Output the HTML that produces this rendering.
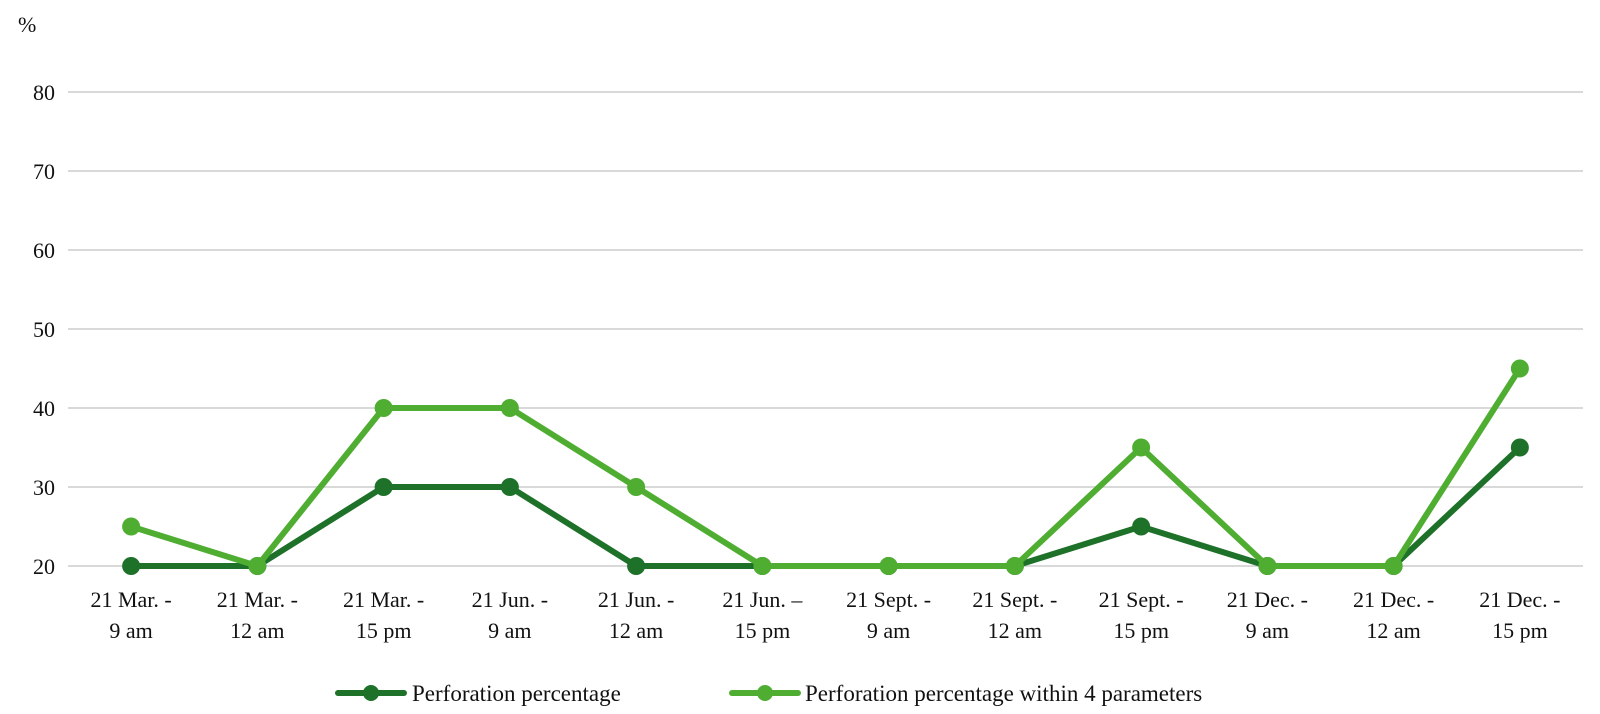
<!DOCTYPE html>
<html><head><meta charset="utf-8"><style>
html,body{margin:0;padding:0;background:#fff;width:1600px;height:714px;overflow:hidden}
text{font-family:"Liberation Serif",serif;fill:#111}
</style></head><body>
<svg id="chart" width="1600" height="714" xmlns="http://www.w3.org/2000/svg">
<text x="18" y="32" font-size="22">%</text>
<g id="grid"></g><g id="xl"></g><g id="series"></g>
<g>
<g>
<line x1="338" y1="693" x2="404" y2="693" stroke="#1e7129" stroke-width="6" stroke-linecap="round"/>
<circle cx="371" cy="693" r="8" fill="#1e7129"/>
<text x="412" y="701" font-size="23">Perforation percentage</text></g>
<g>
<line x1="732" y1="693" x2="798" y2="693" stroke="#4fae32" stroke-width="6" stroke-linecap="round"/>
<circle cx="765" cy="693" r="8" fill="#4fae32"/>
<text x="805" y="701" font-size="23">Perforation percentage within 4 parameters</text></g>
</g>
</svg>
<script>
const categories=[["21 Mar. -","9 am"],["21 Mar. -","12 am"],["21 Mar. -","15 pm"],["21 Jun. -","9 am"],["21 Jun. -","12 am"],["21 Jun. –","15 pm"],["21 Sept. -","9 am"],["21 Sept. -","12 am"],["21 Sept. -","15 pm"],["21 Dec. -","9 am"],["21 Dec. -","12 am"],["21 Dec. -","15 pm"]];
const perforation=[20,20,30,30,20,20,20,20,25,20,20,35];
const within4=[25,20,40,40,30,20,20,20,35,20,20,45];
const yTicks=[20,30,40,50,60,70,80];
const NS="http://www.w3.org/2000/svg";
const L=68,R=1583,Y0=566,PX=7.9;
const xs=i=>L+(R-L)/categories.length*(i+0.5);
const ys=v=>Y0-(v-20)*PX;
function mk(tag,attrs,parent){const e=document.createElementNS(NS,tag);for(const k in attrs)e.setAttribute(k,attrs[k]);parent.appendChild(e);return e;}
const grid=document.getElementById('grid');
yTicks.forEach(t=>{
 const ln=mk('line',{x1:L,x2:R,y1:ys(t),y2:ys(t),stroke:'#d9d9d9','stroke-width':2},grid);
 
 
 const tx=mk('text',{x:55,y:ys(t)+8,'text-anchor':'end','font-size':22},grid);
 tx.textContent=t;
 
 
});
const xl=document.getElementById('xl');
categories.forEach((c,i)=>{
 const tx=mk('text',{x:xs(i),y:607,'text-anchor':'middle','font-size':22},xl);
 
 
 c.forEach((s,j)=>{const ts=mk('tspan',{x:xs(i),dy:j?31:0},tx);ts.textContent=s;});
});
const sg=document.getElementById('series');
function draw(vals,color,name){
 const g=mk('g',{},sg);
 
 
 const pl=mk('polyline',{points:vals.map((v,i)=>xs(i)+','+ys(v)).join(' '),fill:'none',stroke:color,'stroke-width':6,'stroke-linejoin':'round'},g);
 
 
 vals.forEach((v,i)=>{
  const c=mk('circle',{cx:xs(i),cy:ys(v),r:9,fill:color},g);
  
  
 });
}
draw(perforation,'#1e7129','series-perforation');
draw(within4,'#4fae32','series-within-4-parameters');
</script>
</body></html>
